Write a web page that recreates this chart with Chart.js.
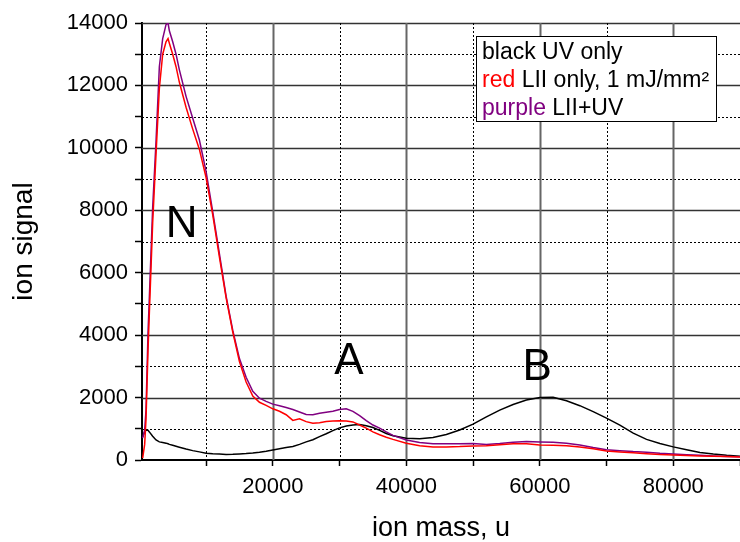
<!DOCTYPE html>
<html>
<head>
<meta charset="utf-8">
<script src="https://cdn.jsdelivr.net/npm/chart.js@4.4.0/dist/chart.umd.min.js"></script>
<style>
    html, body { margin: 0; padding: 0; background: #fff; }
    canvas { display: block; }
</style>
</head>
<body>
<canvas id="ionChart" width="740" height="542"></canvas>
<script>
let mass = [500, 800, 1000, 1300, 1500, 2000, 2500, 3000, 3500, 4000, 4300, 4500, 5000, 5500, 6000,
    7000, 8000, 9000, 10000, 11000, 12000, 13000, 14000, 15000, 16000, 17000, 18000, 19000, 20000,
    21000, 22000, 23000, 24000, 25000, 26000, 27000, 28000, 29000, 30000, 31000, 32000, 33000, 34000,
    35000, 36000, 37000, 38000,
    40000, 42000, 44000, 46000, 48000, 50000, 52000, 54000, 56000, 58000, 60000, 62000, 64000, 66000,
    68000, 70000, 72000, 74000, 76000, 78000, 80000, 82000, 84000, 86000, 88000, 90000];

// black: UV only
let uvOnly = [750, 900, 950, 950, 900, 760, 640, 580, 560, 540, 520, 500, 470, 440, 410,
    350, 300, 260, 220, 200, 190, 180, 185, 195, 205, 225, 250, 280, 320,
    360, 400, 430, 500, 580, 650, 750, 840, 940, 1030, 1090, 1120, 1140, 1100,
    1040, 950, 850, 780,
    700, 680, 720, 820, 960, 1150, 1380, 1600, 1780, 1920, 2000, 2010, 1900, 1740,
    1550, 1340, 1120, 860, 660, 530, 420, 330, 240, 190, 150, 120];

// red: LII only
let liiOnly = [60, 500, 1300, 3500, 4700, 7600, 9800, 11900, 13000, 13400, 13500, 13350, 13000, 12600, 12100,
    11300, 10600, 9950, 9050, 7850, 6500, 5200, 4100, 3150, 2500, 2050, 1850, 1750, 1640,
    1560, 1450, 1270, 1320, 1230, 1180, 1190, 1230, 1250, 1260, 1250, 1220, 1120, 1020,
    900, 810, 730, 660,
    540, 460, 420, 420, 430, 450, 460, 490, 520, 520, 480, 470, 460, 420,
    360, 290, 260, 230, 200, 175, 160, 145, 130, 120, 110, 100];

// purple: LII + UV
let liiUv = [700, 960, 1600, 4070, 5200, 8100, 10200, 12600, 13500, 13950, 14000, 13750, 13400, 13000, 12500,
    11650, 10950, 10250, 9250, 7950, 6600, 5250, 4150, 3250, 2650, 2200, 1980, 1880, 1790,
    1740, 1680, 1620, 1540, 1460, 1450, 1500, 1530, 1560, 1620, 1640, 1560, 1420, 1260,
    1120, 1020, 900, 790,
    640, 560, 520, 520, 520, 530, 500, 530, 570, 590, 580, 570, 540, 480,
    400, 330, 300, 270, 250, 215, 190, 170, 150, 130, 115, 105];

// peak letters, placed in data units
let peakNames = ["N", "A", "B"];
let peakMass = [6350, 31400, 59600];
let peakSignal = [7530, 3140, 2950];

let legendLines = [
    [["black", "#000000"], [" UV only", "#000000"]],
    [["red", "#ff0000"], [" LII only, 1 mJ/mm\u00b2", "#000000"]],
    [["purple", "#800080"], [" LII+UV", "#000000"]]
];

const FONT = "'Liberation Sans', Arial, sans-serif";

function toPoints(ys) {
    return mass.map((m, i) => ({ x: m, y: ys[i] }));
}

// grid: solid at major steps, dotted in between
const gridPlugin = {
    id: "originGrid",
    beforeDatasetsDraw(chart) {
        let ctx = chart.ctx;
        let area = chart.chartArea;
        let xs = chart.scales.x;
        let ys = chart.scales.y;
        ctx.save();
        for (let v = 1000; v <= 14000; v += 1000) {
            let py = Math.round(ys.getPixelForValue(v)) + 0.5;
            ctx.beginPath();
            if (v % 2000 === 0) {
                ctx.setLineDash([]);
                ctx.strokeStyle = "#333";
                ctx.lineWidth = 1.5;
            } else {
                ctx.setLineDash([2, 2]);
                ctx.strokeStyle = "#000";
                ctx.lineWidth = 1;
            }
            ctx.moveTo(area.left, py);
            ctx.lineTo(area.right, py);
            ctx.stroke();
        }
        for (let v = 10000; v < 90000; v += 10000) {
            let px = Math.round(xs.getPixelForValue(v)) + 0.5;
            ctx.beginPath();
            if (v % 20000 === 0) {
                ctx.setLineDash([]);
                ctx.strokeStyle = "#666";
                ctx.lineWidth = 2;
            } else {
                ctx.setLineDash([2, 2]);
                ctx.strokeStyle = "#000";
                ctx.lineWidth = 1;
            }
            ctx.moveTo(px, area.top);
            ctx.lineTo(px, area.bottom);
            ctx.stroke();
        }
        ctx.restore();
    }
};

// N / A / B letters and the text box in the corner
const labelPlugin = {
    id: "peakLabels",
    afterDatasetsDraw(chart) {
        let ctx = chart.ctx;
        let xs = chart.scales.x;
        let ys = chart.scales.y;
        ctx.save();
        ctx.fillStyle = "#000";
        ctx.font = "44px " + FONT;
        ctx.textAlign = "center";
        ctx.textBaseline = "middle";
        peakNames.forEach((name, i) => {
            ctx.fillText(name, xs.getPixelForValue(peakMass[i]), ys.getPixelForValue(peakSignal[i]));
        });

        // legend box
        let bx = 476, by = 36, bw = 240, bh = 85;
        ctx.fillStyle = "#fff";
        ctx.fillRect(bx, by, bw, bh);
        ctx.strokeStyle = "#000";
        ctx.lineWidth = 1;
        ctx.strokeRect(bx + 0.5, by + 0.5, bw, bh);
        ctx.font = "23px " + FONT;
        ctx.textAlign = "left";
        ctx.textBaseline = "middle";
        legendLines.forEach((parts, row) => {
            let tx = bx + 6;
            let ty = by + 17 + row * 28;
            parts.forEach((p) => {
                ctx.fillStyle = p[1];
                ctx.fillText(p[0], tx, ty);
                tx += ctx.measureText(p[0]).width;
            });
        });
        ctx.restore();
    }
};

let chartData = {
    datasets: [
        { label: "UV only", data: toPoints(uvOnly), borderColor: "#000000", order: 2 },
        { label: "LII+UV", data: toPoints(liiUv), borderColor: "#800080", order: 1 },
        { label: "LII only", data: toPoints(liiOnly), borderColor: "#ff0000", order: 0 }
    ]
};

let config = {
    type: "line",
    data: chartData,
    options: {
        responsive: false,
        animation: false,
        layout: { padding: { top: 23, right: 0, left: 0, bottom: 0 } },
        elements: {
            point: { radius: 0 },
            line: { borderWidth: 1.5, tension: 0 }
        },
        plugins: {
            legend: { display: false },
            tooltip: { enabled: false }
        },
        scales: {
            x: {
                type: "linear",
                min: 400,
                max: 90000,
                afterFit: function(scale) {
                    scale.height = 82;
                    scale.paddingLeft = 0;
                    scale.paddingRight = 0;
                },
                afterBuildTicks: function(scale) {
                    let t = [];
                    for (let v = 10000; v <= 90000; v += 10000) t.push({ value: v });
                    scale.ticks = t;
                },
                border: { color: "#000", width: 2 },
                grid: { drawOnChartArea: false, tickLength: 6, tickColor: "#000", tickWidth: 1.5 },
                ticks: {
                    autoSkip: false,
                    maxRotation: 0,
                    padding: 8,
                    color: "#000",
                    font: { family: FONT, size: 22 },
                    callback: function(value) {
                        return (value % 20000 === 0 && value < 90000) ? String(value) : "";
                    }
                },
                title: {
                    display: true,
                    text: "ion mass, u",
                    color: "#000",
                    font: { family: FONT, size: 27 },
                    padding: { top: 0, bottom: -3 }
                }
            },
            y: {
                min: 0,
                max: 14000,
                afterFit: function(scale) {
                    scale.width = 142;
                    scale.paddingTop = 0;
                    scale.paddingBottom = 0;
                },
                border: { color: "#000", width: 2 },
                grid: { drawOnChartArea: false, tickLength: 7, tickColor: "#000", tickWidth: 1.5 },
                ticks: {
                    stepSize: 1000,
                    autoSkip: false,
                    padding: 7,
                    color: "#000",
                    font: { family: FONT, size: 22 },
                    callback: function(value) {
                        return value % 2000 === 0 ? String(value) : "";
                    }
                },
                title: {
                    display: true,
                    text: "ion signal",
                    color: "#000",
                    font: { family: FONT, size: 28 },
                    padding: { top: 7, bottom: 0 }
                }
            }
        }
    },
    plugins: [gridPlugin, labelPlugin]
};

const ionChart = new Chart(document.getElementById("ionChart"), config);
</script>
</body>
</html>
